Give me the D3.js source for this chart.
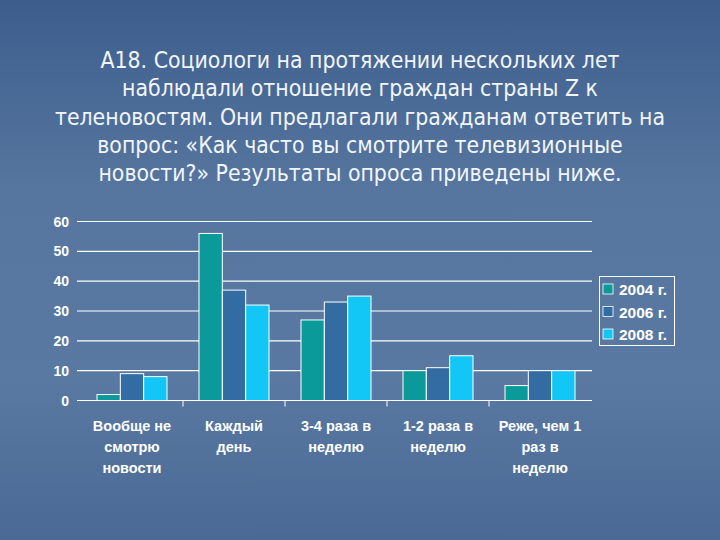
<!DOCTYPE html>
<html><head><meta charset="utf-8">
<script src="https://cdn.jsdelivr.net/npm/d3@7"></script>
<style>html,body{margin:0;padding:0;background:#4f6f9a;}svg{display:block;}</style>
</head><body>
<svg id="c" width="720" height="540"></svg>
<script>
const titleLines = [
  "А18. Социологи на протяжении нескольких лет",
  "наблюдали отношение граждан страны Z к",
  "теленовостям. Они предлагали гражданам ответить на",
  "вопрос: «Как часто вы смотрите телевизионные",
  "новости?» Результаты опроса приведены ниже."
];
const categories = [
  ["Вообще не", "смотрю", "новости"],
  ["Каждый", "день"],
  ["3-4 раза в", "неделю"],
  ["1-2 раза в", "неделю"],
  ["Реже, чем 1", "раз в", "неделю"]
];
const seriesNames = ["2004 г.", "2006 г.", "2008 г."];
const values2004 = [2, 56, 27, 10, 5];
const values2006 = [9, 37, 33, 11, 10];
const values2008 = [8, 32, 35, 15, 10];
const yTicks = [0, 10, 20, 30, 40, 50, 60];
const colors = ["#0a9a9a", "#336ca3", "#12c6f6"];

const series = [values2004, values2006, values2008];
const svg = d3.select("#c");
const defs = svg.append("defs");
const g0 = defs.append("linearGradient").attr("id","bg").attr("x1",0).attr("y1",0).attr("x2",0).attr("y2",1);
g0.append("stop").attr("offset","0%").attr("stop-color","#3d5e8d");
g0.append("stop").attr("offset","35%").attr("stop-color","#56769f");
g0.append("stop").attr("offset","70%").attr("stop-color","#5979a3");
g0.append("stop").attr("offset","100%").attr("stop-color","#4a6a95");
svg.append("rect").attr("width",720).attr("height",540).attr("fill","url(#bg)");

// title
svg.append("g").selectAll("text").data(titleLines).join("text")
  .attr("x", 360).attr("y", (d,i)=>68 + i*28.3)
  .attr("text-anchor","middle")
  .attr("font-family","'DejaVu Sans Condensed', 'DejaVu Sans', sans-serif")
  .attr("font-size", 22.8)
  .attr("fill","#f2f5fa")
  .text(d=>d);

const x0 = d3.scaleBand().domain(d3.range(categories.length)).range([81, 591]).paddingInner(0).paddingOuter(0);
const x1 = d3.scaleBand().domain(d3.range(3)).range([0, 70]);
const y = d3.scaleLinear().domain([0, 60]).range([400.5, 221.5]);

// gridlines
svg.append("g").selectAll("line").data(yTicks.filter(t=>t>0)).join("line")
  .attr("x1",77).attr("x2",592).attr("y1",d=>y(d)).attr("y2",d=>y(d))
  .attr("stroke","#ffffff").attr("stroke-width",1.2);

// y labels
svg.append("g").selectAll("text").data(yTicks).join("text")
  .attr("x",69).attr("y",d=>y(d)+5)
  .attr("text-anchor","end")
  .attr("font-family","'Liberation Sans', Arial, sans-serif")
  .attr("font-weight","bold").attr("font-size",14).attr("fill","#ffffff")
  .text(d=>d);

// bars
const groups = svg.append("g").selectAll("g").data(categories).join("g")
  .attr("transform",(d,i)=>`translate(${x0(i) + (x0.bandwidth()-70)/2},0)`);
groups.selectAll("rect").data((d,i)=>series.map((s,k)=>({k, v:s[i]}))).join("rect")
  .attr("x",d=>x1(d.k)).attr("width",x1.bandwidth())
  .attr("y",d=>y(d.v)).attr("height",d=>y(0)-y(d.v))
  .attr("fill",d=>colors[d.k]).attr("stroke","#ffffff").attr("stroke-width",1);

// x axis line and ticks
svg.append("line").attr("x1",77).attr("x2",592).attr("y1",y(0)).attr("y2",y(0)).attr("stroke","#fff").attr("stroke-width",1.2);
svg.append("g").selectAll("line").data(d3.range(1,categories.length)).join("line")
  .attr("x1",i=>x0(i)).attr("x2",i=>x0(i)).attr("y1",y(0)).attr("y2",y(0)+6)
  .attr("stroke","#fff").attr("stroke-width",1);

// x labels
const xl = svg.append("g").selectAll("text").data(categories).join("text")
  .attr("text-anchor","middle")
  .attr("font-family","'Liberation Sans', Arial, sans-serif")
  .attr("font-weight","bold").attr("font-size",14.5).attr("fill","#ffffff");
xl.each(function(d,i){
  d3.select(this).selectAll("tspan").data(d).join("tspan")
    .attr("x", x0(i)+x0.bandwidth()/2).attr("y",(t,j)=>431+j*21).text(t=>t);
});

// legend
const lg = svg.append("g");
lg.append("rect").attr("x",599.5).attr("y",276.5).attr("width",75).attr("height",69)
  .attr("fill","none").attr("stroke","#fff").attr("stroke-width",1);
const li = lg.selectAll("g").data(seriesNames).join("g")
  .attr("transform",(d,i)=>`translate(603,${284+i*22.5})`);
li.append("rect").attr("width",10).attr("height",10).attr("fill",(d,i)=>colors[i]).attr("stroke","#fff").attr("stroke-width",0.8);
li.append("text").attr("x",16).attr("y",11)
  .attr("font-family","'Liberation Sans', Arial, sans-serif")
  .attr("font-weight","bold").attr("font-size",15.5).attr("fill","#fff").text(d=>d);
</script>
</body></html>
